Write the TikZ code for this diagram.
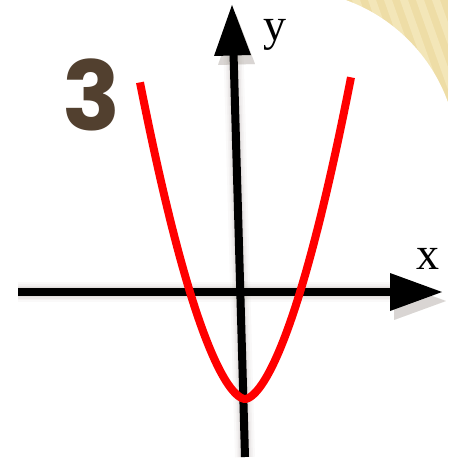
\documentclass[tikz,border=0pt]{standalone}
\usepackage{fontspec}
\newfontfamily\digitfont{Poppins}
\newfontfamily\lblfont{Liberation Serif}
\definecolor{beigeA}{HTML}{EEDDA6}
\definecolor{beigeB}{HTML}{F6EAC0}
\definecolor{numbrown}{HTML}{52402F}
\definecolor{shadowc}{HTML}{8A7E76}
\definecolor{curvered}{HTML}{FF0000}
\tikzset{
  axisline/.style={line width=8pt, black},
  tiparrow/.style={fill=black},
  curve/.style={line width=8pt, curvered, line join=round},
  lbl/.style={font=\lblfont\fontsize{46}{46}\selectfont, inner sep=0pt, anchor=base},
}
\begin{document}
\begin{tikzpicture}[x=1pt,y=-1pt]
\useasboundingbox (0,0) rectangle (448,468);
\fill[white] (0,0) rectangle (448,468);
% textured corner
\begin{scope}
  \clip (300,0) rectangle (448,140);
  \fill[beigeA] (300,0) rectangle (448,140);
  \foreach \k in {0,16,...,200}{
    \fill[beigeB, opacity=0.7] (240+\k,0) -- (248+\k,0) -- (298+\k,140) -- (290+\k,140) -- cycle;
  }
\end{scope}
\fill[white] (288,160) circle (170pt);
% coordinates
\coordinate (xs) at (18,292);
\coordinate (xe) at (392,292);
\coordinate (xtip) at (442,292);
\coordinate (ys) at (245,457);
\coordinate (ye) at (233.5,53);
\coordinate (ytip) at (232,5);
% shadows
\begin{scope}[shift={(4,9)}]
  \foreach \w/\o in {20/0.04,16/0.05,13/0.07,10/0.09,8/0.1}{
    \draw[line width=\w pt, shadowc, opacity=\o] (xs) -- (xe);
    \draw[line width=\w pt, shadowc, opacity=\o] (ys) -- (ye);
    \fill[shadowc, opacity=\o] (390,273) -- (442,292) -- (390,311) -- cycle;
    \fill[shadowc, opacity=\o] (214,56) -- (232,5) -- (251,55) -- cycle;
  }
\end{scope}
% axes
\draw[axisline] (xs) -- (xe);
\draw[axisline] (ys) -- (ye);
\fill[tiparrow] (390,273) -- (xtip) -- (390,311) -- cycle;
\fill[tiparrow] (214,56) -- (ytip) -- (251,55) -- cycle;
% parabola
\draw[curve] plot[domain=-105:106, samples=200, variable=\t] ({245+\t}, {399-((abs(\t)+0.01)/3.41)^1.68});
% labels
\node[lbl] (ylbl) at (275,41) {y};
\node[lbl] (xlbl) at (428,269) {x};
\node[font=\digitfont\bfseries\fontsize{96}{96}\selectfont, text=numbrown, inner sep=0pt, anchor=base] (num) at (92,130) {3};
\end{tikzpicture}
\end{document}
